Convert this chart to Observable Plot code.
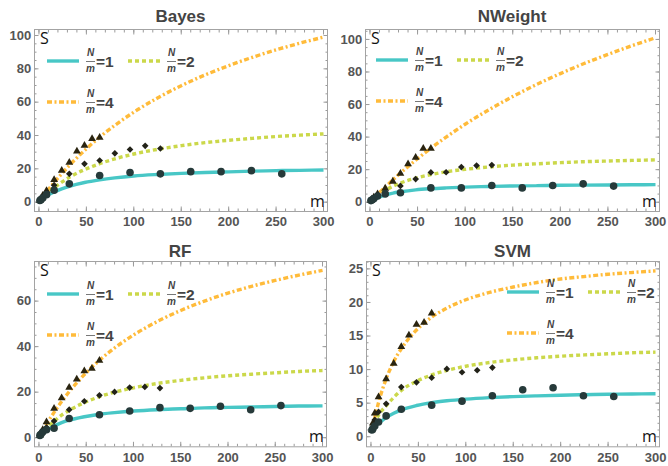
<!DOCTYPE html>
<html><head><meta charset="utf-8">
<script src="https://cdn.jsdelivr.net/npm/d3@7"></script>
<script src="https://cdn.jsdelivr.net/npm/@observablehq/plot@0.6"></script>
<style>
body{margin:0;background:#fff;font-family:"Liberation Sans",Arial,sans-serif;}
#root{position:relative;width:668px;height:466px;overflow:hidden;}
.panel{position:absolute;width:334px;height:233px;}
.title{position:absolute;font-weight:bold;font-size:17px;line-height:21px;color:#444;text-align:center;}
.panel svg.plotsvg{position:absolute;left:0;top:21px;}
.legend{position:absolute;overflow:visible;}
</style>
</head><body><div id="root"></div>
<script>
// ---- data ----
const mCurve    = [1,4,8,16,24,32,48,64,80,100,125,150,175,200,225,250,275,300];
const mCircle   = [1,2,4,8,16,32,64,96,128,160,192,224,256];
const mDiamond  = [1,2,4,8,16,32,48,64,80,96,112,128];
const mTriangle = [1,2,4,8,16,24,32,40,48,56,64];
const xTicks = [0,50,100,150,200,250,300];

// Bayes
const bayesFit1 = [0.8,2.2,3.8,6.2,8.0,9.5,11.8,13.4,14.6,15.7,16.6,17.3,17.8,18.2,18.6,18.9,19.1,19.3];
const bayesFit2 = [0.8,2.5,4.8,8.7,12.0,14.9,19.5,23.1,26.0,28.9,31.7,33.9,35.7,37.1,38.3,39.4,40.2,41.0];
const bayesFit4 = [0.9,3.1,6.1,11.8,17.1,22.0,31.0,39.0,46.1,54.0,62.5,69.9,76.3,81.9,86.9,91.4,95.4,99.0];
const bayesPts1 = [1,1.5,2.5,4.5,7.2,11,16,17.8,17,18.3,18.3,18.9,17];
const bayesPts2 = [1,2,3.5,6,10.2,17,23,25,29.3,31.6,33.8,32.2];
const bayesPts4 = [1,2,4,6.8,13.5,19,23.8,30.5,34,38,38.8];
// NWeight
const nwFit1 = [0.8,1.6,2.7,4.4,5.6,6.4,7.6,8.3,8.8,9.3,9.7,10.0,10.2,10.4,10.5,10.6,10.7,10.8];
const nwFit2 = [0.8,2.2,4.2,7.3,9.8,11.8,14.8,17.0,18.7,20.2,21.7,22.8,23.6,24.3,24.9,25.3,25.7,26.0];
const nwFit4 = [0.9,2.4,4.8,9.3,13.7,17.9,25.8,33.2,40.0,47.9,56.8,64.9,72.3,79.0,85.2,90.8,96.1,101.0];
const nwPts1 = [1,1.4,2.2,3.8,5.1,5.8,8.8,8.8,10.3,8.8,10.3,11.3,9.9];
const nwPts2 = [1,1.6,2.5,3.8,6,10,14.2,18.3,18.4,21.6,22.5,22.8];
const nwPts4 = [1,1.8,3,5,8.5,12.8,17.6,23.5,27.5,33,33];
// RF
const rfFit1 = [0.8,1.7,3.1,5.1,6.6,7.7,9.2,10.3,11.0,11.7,12.3,12.7,13.1,13.3,13.5,13.7,13.9,14.0];
const rfFit2 = [0.8,2.1,4.0,7.2,9.9,12.0,15.4,18.0,20.0,21.9,23.8,25.2,26.3,27.2,27.9,28.5,29.1,29.5];
const rfFit4 = [0.8,3.0,5.9,11.1,15.9,20.2,27.7,34.0,39.4,45.1,51.0,55.9,60.0,63.5,66.5,69.1,71.4,73.5];
const rfPts1 = [1,1.5,2.5,3.5,4.2,8.4,10.1,11.7,13.2,12.9,13.8,12.3,14.1];
const rfPts2 = [1,1.8,3,4.5,7.3,12.3,16,18.6,20.1,22,22.3,21.8];
const rfPts4 = [1,2,3.5,6.9,12.8,17.4,22,25.7,29.3,30.4,33.9];
// SVM
const svmFit1 = [1.0,1.6,2.0,2.85,3.5,4.0,4.65,5.07,5.35,5.6,5.82,5.98,6.09,6.18,6.26,6.32,6.37,6.4];
const svmFit2 = [0.9,2.0,3.2,4.6,5.85,6.9,8.26,9.2,9.88,10.5,11.05,11.45,11.76,12.0,12.19,12.35,12.5,12.6];
const svmFit4 = [0.9,2.8,5.1,8.6,11.2,13.1,15.9,17.8,19.15,20.4,21.5,22.3,22.97,23.5,23.86,24.2,24.46,24.7];
const svmPts1 = [1,1.2,1.6,2.2,3.1,4.1,4.7,5.3,6.1,7.0,7.3,6.1,6.0];
const svmPts2 = [1,1.4,2.5,3.7,4.9,7.4,8.1,8.8,10.1,9.6,9.9,10.3];
const svmPts4 = [1,2,3.5,5.9,8.6,10.9,13.4,15.1,16.7,17.0,18.4];

const titles = ["Bayes","NWeight","RF","SVM"];
const legendLabels = ["1","2","4"];

// ---- styles / layout ----
const teal = "#48c7c6", green = "#cbd84a", orange = "#ffbb3a";
const tickStroke = "#9b9b9b", labelFill = "#555";
const fontFam = "Liberation Sans, Arial, sans-serif";

const panels = [
  {title: titles[0], left:0,   top:0,   ml:34, mr:7, mt:8, mb:22,   yDomain:[-5.6,103.6], yTicks:[0,20,40,60,80,100], yMinor:5, titleTop:6, leg:[47,61],
   fits:[bayesFit1,bayesFit2,bayesFit4], pts:[bayesPts1,bayesPts2,bayesPts4]},
  {title: titles[1], left:334, top:0,   ml:31, mr:9, mt:8, mb:22,   yDomain:[-5.7,106.1], yTicks:[0,20,40,60,80,100], yMinor:5, titleTop:6, leg:[376,60],
   fits:[nwFit1,nwFit2,nwFit4], pts:[nwPts1,nwPts2,nwPts4]},
  {title: titles[2], left:0,   top:233, ml:34, mr:8, mt:7, mb:19.7, yDomain:[-4,77.4], yTicks:[0,20,40,60], yMinor:5, titleTop:8, leg:[47,294],
   fits:[rfFit1,rfFit2,rfFit4], pts:[rfPts1,rfPts2,rfPts4]},
  {title: titles[3], left:334, top:233, ml:32, mr:9, mt:7, mb:19.7, yDomain:[-1.5,26.1], yTicks:[0,5,10,15,20,25], yMinor:1, titleTop:8, leg:[507,292],
   fits:[svmFit1,svmFit2,svmFit4], pts:[svmPts1,svmPts2,svmPts4]}
];

const rows = (ms, ss) => ms.map((m, i) => ({m, S: ss[i]}));
const lineStyles = [
  {stroke: teal, strokeWidth: 3.4},
  {stroke: green, strokeWidth: 3.4, strokeDasharray: "4,3"},
  {stroke: orange, strokeWidth: 3.4, strokeDasharray: "5,2.5,2,2.5"}
];
const ptMs = [mCircle, mDiamond, mTriangle];
const ptStyles = [
  {symbol: "circle", r: 3.8, fill: "#263a3a"},
  {symbol: "diamond2", r: 3.0, fill: "#222218"},
  {symbol: "triangle", r: 2.9, fill: "#2a2410"}
];

const root = document.getElementById("root");

panels.forEach(p => {
  const div = document.createElement("div");
  div.className = "panel";
  div.style.left = p.left + "px";
  div.style.top = p.top + "px";
  root.appendChild(div);

  const t = document.createElement("div");
  t.className = "title";
  t.textContent = p.title;
  t.style.left = p.ml + "px";
  t.style.width = (334 - p.ml - p.mr) + "px";
  t.style.top = p.titleTop + "px";
  div.appendChild(t);

  const xMinor = d3.range(0, 301, 10);
  const yMinor = d3.range(0, p.yDomain[1], p.yMinor);
  const minorOpt = {stroke: tickStroke, fill: "none", label: null, tickSize: -2.5};
  const majorTickOpt = {stroke: tickStroke, fill: "none", label: null, tickSize: -4.5};

  const marks = [
    Plot.axisX(xMinor, {...minorOpt, anchor: "bottom"}),
    Plot.axisX(xMinor, {...minorOpt, anchor: "top"}),
    Plot.axisY(yMinor, {...minorOpt, anchor: "left"}),
    Plot.axisY(yMinor, {...minorOpt, anchor: "right"}),
    Plot.axisX(xTicks, {...majorTickOpt, anchor: "top"}),
    Plot.axisY(p.yTicks, {...majorTickOpt, anchor: "right"}),
    Plot.axisX(xTicks, {anchor: "bottom", tickSize: -4.5, tickPadding: 10, stroke: tickStroke, fill: labelFill, fontSize: 13, fontWeight: "bold", label: null}),
    Plot.axisY(p.yTicks, {anchor: "left", tickSize: -4.5, tickPadding: 7.8, stroke: tickStroke, fill: labelFill, fontSize: 13, fontWeight: "bold", label: null}),
    Plot.frame({stroke: "#a3a3a3"})
  ];
  // fitted curves: N/m=4 at back, then 2, then 1
  [2,1,0].forEach(k => {
    marks.push(Plot.line(rows(mCurve, p.fits[k]), {x: "m", y: "S", curve: "monotone-x", strokeLinecap: "butt", strokeLinejoin: "miter", ...lineStyles[k]}));
  });
  [2,1,0].forEach(k => {
    marks.push(Plot.dot(rows(ptMs[k], p.pts[k]), {x: "m", y: "S", stroke: "none", ...ptStyles[k]}));
  });
  marks.push(Plot.text(["S"], {text: d => d, frameAnchor: "top-left", dx: 10, dy: 9, textAnchor: "middle", lineAnchor: "middle", fontSize: 16, fill: "#111", fontFamily: "Open Sans, sans-serif"}));
  marks.push(Plot.text(["m"], {text: d => d, frameAnchor: "bottom-right", dx: -10, dy: -10, textAnchor: "middle", lineAnchor: "middle", fontSize: 16, fill: "#111", fontFamily: "Open Sans, sans-serif"}));

  const svg = Plot.plot({
    width: 334, height: 212,
    marginLeft: p.ml, marginRight: p.mr, marginTop: p.mt, marginBottom: p.mb,
    x: {domain: [-4.7, 304.2]},
    y: {domain: p.yDomain},
    style: {background: "transparent", overflow: "visible", fontFamily: fontFam},
    marks
  });
  svg.classList.add("plotsvg");
  div.appendChild(svg);

  // legend overlay
  const [ox, oy] = p.leg;
  const lg = d3.create("svg").attr("class", "legend").attr("width", 200).attr("height", 80);
  const g = lg.append("g").attr("transform", "translate(4,20)");
  const offs = [[0,0],[81,0],[0,41]];
  offs.forEach(([dx, dy], k) => {
    g.append("line").attr("x1", dx).attr("x2", dx + 32).attr("y1", dy).attr("y2", dy)
      .attr("stroke", lineStyles[k].stroke).attr("stroke-width", 3.4)
      .attr("stroke-dasharray", lineStyles[k].strokeDasharray || null);
    g.append("text").attr("x", dx + 43.5).attr("y", dy - 5).attr("text-anchor", "middle")
      .attr("font-size", 10).attr("font-style", "italic").attr("font-weight", "bold").attr("fill", "#444")
      .attr("font-family", fontFam).text("N");
    g.append("line").attr("x1", dx + 39).attr("x2", dx + 48).attr("y1", dy + 0.5).attr("y2", dy + 0.5)
      .attr("stroke", "#555").attr("stroke-width", 0.8);
    g.append("text").attr("x", dx + 43.5).attr("y", dy + 10.5).attr("text-anchor", "middle")
      .attr("font-size", 10).attr("font-style", "italic").attr("font-weight", "bold").attr("fill", "#444")
      .attr("font-family", fontFam).text("m");
    g.append("text").attr("x", dx + 49).attr("y", dy + 5.5)
      .attr("font-size", 15.5).attr("font-weight", "bold").attr("fill", "#444")
      .attr("font-family", fontFam).text("=" + legendLabels[k]);
  });
  div.appendChild(lg.node());
  lg.style("left", (ox - 4 - p.left) + "px").style("top", (oy - 20 - p.top) + "px");
});
</script>
</body></html>
